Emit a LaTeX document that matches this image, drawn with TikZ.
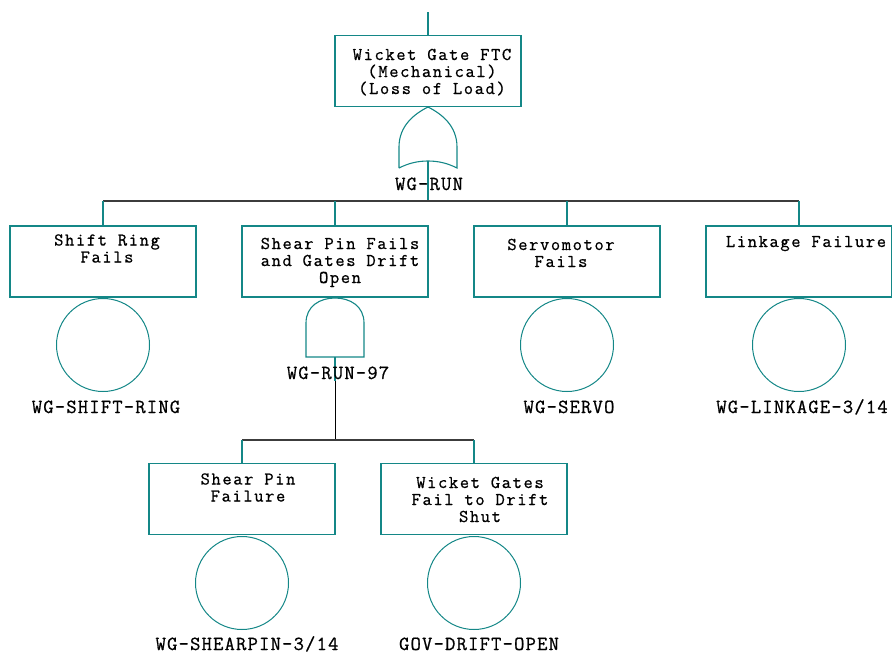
\documentclass[tikz,border=0pt]{standalone}
\usepackage{fontspec}
\newfontfamily\boxfont[LetterSpace=9,FakeBold=0.8]{Latin Modern Mono}
\newfontfamily\labfont[LetterSpace=6,FakeBold=0.8]{Latin Modern Mono}
\definecolor{ftteal}{RGB}{20,135,135}
\definecolor{bargray}{RGB}{60,60,60}
\begin{document}
\begin{tikzpicture}[x=1pt,y=-1pt,
  evbox/.style={draw=ftteal, line width=1.1pt, minimum width=186pt, minimum height=71pt, inner sep=0pt},
  evtext/.style={anchor=base, align=center, inner sep=0pt, font=\boxfont\fontsize{18}{17}\selectfont},
  idlabel/.style={anchor=base, inner sep=0pt, font=\labfont\fontsize{20}{18}\selectfont},
  basic/.style={draw=ftteal, line width=1pt, circle, minimum size=93pt, inner sep=0pt},
  tealline/.style={draw=ftteal, line width=1.1pt},
  barline/.style={draw=bargray, line width=1.1pt},
  darkline/.style={draw=black, line width=1pt}]
\useasboundingbox (0,0) rectangle (892,657);

% top event
\coordinate (topin) at (428,12);
\node[evbox] (top) at (428,71) {};
\node[evtext] (toptx) at (432,94) {Wicket Gate FTC\\(Mechanical)\\(Loss of Load)};
\draw[tealline] (topin) -- (top.north);

% OR gate
\coordinate (orT) at (428,107);
\coordinate (orB) at (428,161);
\draw[tealline] (399,168) -- (399,147) .. controls (399,126) and (414,114) .. (orT)
  .. controls (442,114) and (457,126) .. (457,147) -- (457,168)
  .. controls (447,163) and (438,161) .. (orB)
  .. controls (418,161) and (409,163) .. (399,168);
\coordinate (bar1) at (428,201);
\draw[tealline] (orB) -- (bar1);
\node[idlabel] (orlab) at (429,190) {WG-RUN};

% level 2 boxes
\node[evbox] (b1) at (103,261.5) {};
\node[evbox] (b2) at (335,261.5) {};
\node[evbox] (b3) at (567,261.5) {};
\node[evbox] (b4) at (799,261.5) {};
\node[evtext] (b1tx) at (107,262.5) {Shift Ring\\Fails};
\node[evtext] (b2tx) at (340,283) {Shear Pin Fails\\and Gates Drift\\Open};
\node[evtext] (b3tx) at (561,267) {Servomotor\\Fails};
\node[evtext] (b4tx) at (806,247) {Linkage Failure};

\draw[barline] (b1.north |- bar1) -- (b4.north |- bar1);
\foreach \b in {b1,b2,b3,b4} \draw[tealline] (\b.north |- bar1) -- (\b.north);

% basic events level 2
\node[basic] (c1) at (103,345) {};
\node[basic] (c3) at (567,345) {};
\node[basic] (c4) at (799,345) {};
\node[idlabel] (c1lab) at (106,413) {WG-SHIFT-RING};
\node[idlabel] (c3lab) at (569,413) {WG-SERVO};
\node[idlabel] (c4lab) at (802,413) {WG-LINKAGE-3/14};

% AND gate
\coordinate (andT) at (335,298);
\coordinate (andB) at (335,357);
\draw[tealline] (306,357) -- (306,323) .. controls (306,306) and (320,298) .. (andT)
  .. controls (350,298) and (364,306) .. (364,323) -- (364,357) -- cycle;
\coordinate (andlabbot) at (335,381);
\coordinate (bar2) at (335,440);
\draw[tealline] (andB) -- (andlabbot);
\draw[darkline] (andlabbot) -- (bar2);
\node[idlabel] (andlab) at (338,379) {WG-RUN-97};

% level 3
\node[evbox] (b5) at (242,499) {};
\node[evbox] (b6) at (474,499) {};
\node[evtext] (b5tx) at (248,501.5) {Shear Pin\\Failure};
\node[evtext] (b6tx) at (480,522) {Wicket Gates\\Fail to Drift\\Shut};
\draw[barline] (b5.north |- bar2) -- (b6.north |- bar2);
\foreach \b in {b5,b6} \draw[tealline] (\b.north |- bar2) -- (\b.north);

\node[basic] (c5) at (242,583) {};
\node[basic] (c6) at (474,583) {};
\node[idlabel] (c5lab) at (247,650) {WG-SHEARPIN-3/14};
\node[idlabel] (c6lab) at (479,650) {GOV-DRIFT-OPEN};
\end{tikzpicture}
\end{document}
